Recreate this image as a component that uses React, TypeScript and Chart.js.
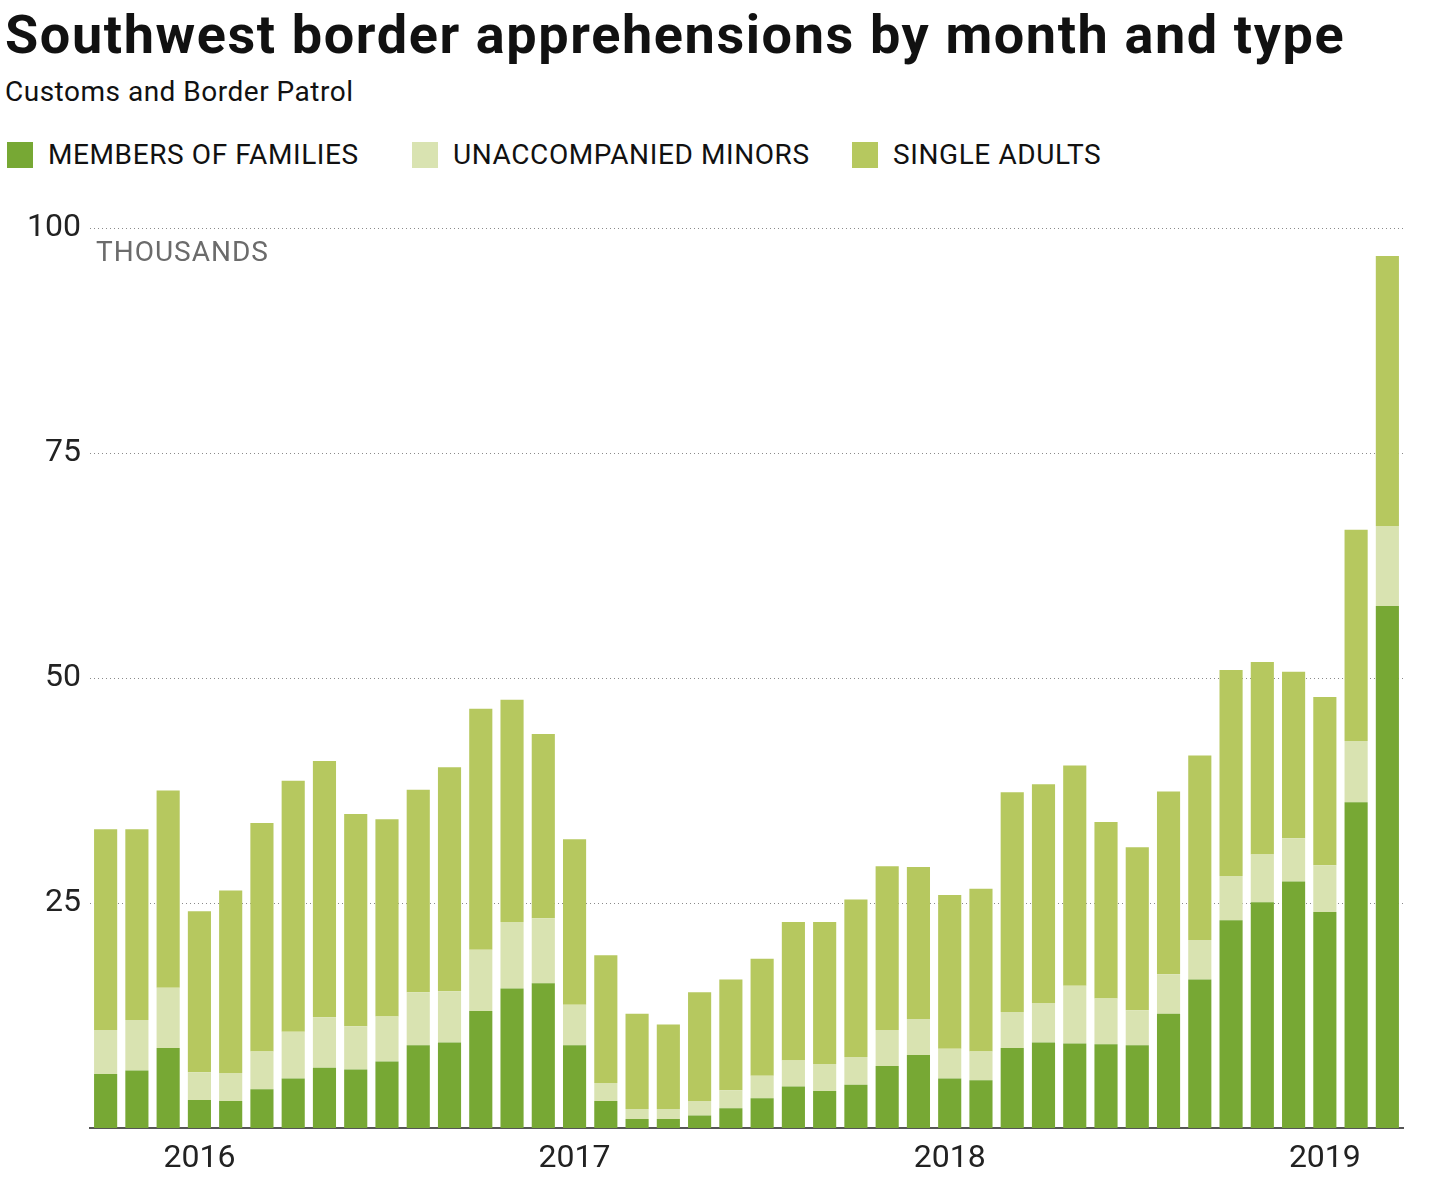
import React, { useEffect, useRef } from "react";
import { Chart, registerables } from "chart.js";

Chart.register(...registerables);

const months = [
  "Oct 2015", "Nov 2015", "Dec 2015",
  "Jan 2016", "Feb 2016", "Mar 2016", "Apr 2016", "May 2016", "Jun 2016",
  "Jul 2016", "Aug 2016", "Sep 2016", "Oct 2016", "Nov 2016", "Dec 2016",
  "Jan 2017", "Feb 2017", "Mar 2017", "Apr 2017", "May 2017", "Jun 2017",
  "Jul 2017", "Aug 2017", "Sep 2017", "Oct 2017", "Nov 2017", "Dec 2017",
  "Jan 2018", "Feb 2018", "Mar 2018", "Apr 2018", "May 2018", "Jun 2018",
  "Jul 2018", "Aug 2018", "Sep 2018", "Oct 2018", "Nov 2018", "Dec 2018",
  "Jan 2019", "Feb 2019", "Mar 2019",
];

// thousands
const familyMembers = [
  6.0, 6.4, 8.9, 3.1, 3.0, 4.3, 5.5, 6.7, 6.5, 7.4, 9.2, 9.5, 13.0, 15.5,
  16.1, 9.2, 3.0, 1.0, 1.0, 1.4, 2.2, 3.3, 4.6, 4.1, 4.8, 6.9, 8.1, 5.5,
  5.3, 8.9, 9.5, 9.4, 9.3, 9.2, 12.7, 16.5, 23.1, 25.1, 27.4, 24.0, 36.2, 58.0,
];
const unaccompaniedMinors = [
  4.9, 5.6, 6.7, 3.1, 3.1, 4.2, 5.2, 5.6, 4.8, 5.0, 5.9, 5.7, 6.8, 7.4,
  7.2, 4.5, 2.0, 1.1, 1.1, 1.6, 2.0, 2.5, 2.9, 3.0, 3.1, 4.0, 4.0, 3.3,
  3.2, 4.0, 4.4, 6.4, 5.1, 3.9, 4.4, 4.4, 4.9, 5.3, 4.8, 5.2, 6.8, 8.9,
];
const singleAdults = [
  22.3, 21.2, 21.9, 17.9, 20.3, 25.4, 27.9, 28.5, 23.6, 21.9, 22.5, 24.9, 26.8, 24.7,
  20.5, 18.4, 14.2, 10.6, 9.4, 12.1, 12.3, 13.0, 15.4, 15.8, 17.5, 18.2, 16.9, 17.1,
  18.1, 24.4, 24.3, 24.5, 19.6, 18.1, 20.3, 20.5, 22.9, 21.4, 18.5, 18.7, 23.5, 30.0,
];

const seriesNames = ["MEMBERS OF FAMILIES", "UNACCOMPANIED MINORS", "SINGLE ADULTS"];
const seriesColors = ["#77a834", "#d9e3b1", "#b6c85f"];
const yTickValues = [25, 50, 75, 100];
const unitLabel = "THOUSANDS";

const FONT = "Roboto, 'Noto Sans', sans-serif";

export default function App() {
  const canvasRef = useRef<HTMLCanvasElement | null>(null);

  useEffect(() => {
    document.body.style.margin = "0";
    const canvas = canvasRef.current;
    if (!canvas) return;

    const unitPlugin = {
      id: "unitLabel",
      afterDraw(chart: any) {
        const { ctx, chartArea, scales } = chart;
        const y = scales.y.getPixelForValue(100);
        ctx.save();
        ctx.font = `28px ${FONT}`;
        try {
          (ctx as any).letterSpacing = "1px";
        } catch (e) {}
        ctx.fillStyle = "#6b6b6b";
        ctx.textAlign = "left";
        ctx.textBaseline = "top";
        ctx.fillText(unitLabel, chartArea.left + 6, y + 12);
        ctx.restore();
      },
    };

    const chart = new Chart(canvas, {
      type: "bar",
      data: {
        labels: months,
        datasets: [
          { label: seriesNames[0], data: familyMembers, backgroundColor: seriesColors[0] },
          { label: seriesNames[1], data: unaccompaniedMinors, backgroundColor: seriesColors[1] },
          { label: seriesNames[2], data: singleAdults, backgroundColor: seriesColors[2] },
        ],
      },
      options: {
        animation: false,
        responsive: false,
        maintainAspectRatio: false,
        datasets: {
          bar: { barPercentage: 0.74, categoryPercentage: 1.0, borderWidth: 0 },
        },
        layout: { padding: { top: 27, right: 37, left: 0, bottom: 0 } },
        plugins: { legend: { display: false }, tooltip: { enabled: false } },
        scales: {
          x: {
            stacked: true,
            grid: { display: false, drawTicks: false },
            border: { display: true, color: "#555555", width: 2 },
            ticks: {
              autoSkip: false,
              maxRotation: 0,
              padding: 12,
              color: "#222222",
              font: { family: FONT, size: 32 },
              callback: (_v: any, i: number) =>
                months[i].startsWith("Jan") ? months[i].slice(4) : "",
            },
            afterFit: (s: any) => {
              s.height = 55;
            },
          },
          y: {
            stacked: true,
            min: 0,
            max: 100,
            afterBuildTicks: (s: any) => {
              s.ticks = yTickValues.map((v) => ({ value: v }));
            },
            grid: {
              drawTicks: false,
              color: "#8a8a8a",
              lineWidth: 1,
            },
            border: { display: false, dash: [1, 3] },
            ticks: {
              padding: 9,
              color: "#222222",
              font: { family: FONT, size: 32 },
            },
            afterFit: (s: any) => {
              s.width = 90;
            },
          },
        },
      },
      plugins: [unitPlugin],
    } as any);

    return () => chart.destroy();
  }, []);

  const legendItem = (i: number, left: number) => (
    <div
      key={i}
      style={{ position: "absolute", left, top: 141, display: "flex", alignItems: "center" }}
    >
      <div style={{ width: 26, height: 26, background: seriesColors[i] }} />
      <div
        style={{
          marginLeft: 15, fontSize: 28, color: "#111", fontFamily: FONT,
          lineHeight: "28px", letterSpacing: "0.6px", whiteSpace: "nowrap",
        }}
      >
        {seriesNames[i]}
      </div>
    </div>
  );

  return (
    <div style={{ position: "relative", width: 1440, height: 1183, background: "#fff", fontFamily: FONT }}>
      <div
        style={{
          position: "absolute", left: 5, top: 5, fontSize: 54, fontWeight: 700,
          color: "#111", whiteSpace: "nowrap", lineHeight: "60px", letterSpacing: "1.6px",
        }}
      >
        Southwest border apprehensions by month and type
      </div>
      <div
        style={{
          position: "absolute", left: 5, top: 76, fontSize: 28, color: "#111",
          whiteSpace: "nowrap", lineHeight: "32px", letterSpacing: "0.5px",
        }}
      >
        Customs and Border Patrol
      </div>
      {legendItem(0, 7)}
      {legendItem(1, 412)}
      {legendItem(2, 852)}
      <canvas
        ref={canvasRef}
        width={1440}
        height={983}
        style={{ position: "absolute", left: 0, top: 200, width: 1440, height: 983 }}
      />
    </div>
  );
}
